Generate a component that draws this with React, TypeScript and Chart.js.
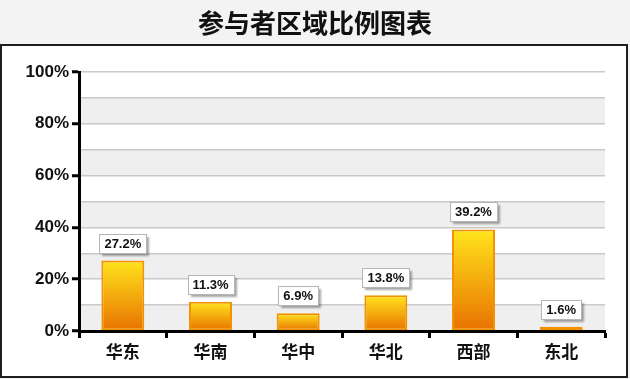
import React, { useEffect, useRef } from 'react';
import { Chart, registerables } from 'chart.js';

Chart.register(...registerables);

const titleText = '参与者区域比例图表';
const categories = ['华东', '华南', '华中', '华北', '西部', '东北'];
const shares = [27.2, 11.3, 6.9, 13.8, 39.2, 1.6];
const labeledTicks = [0, 20, 40, 60, 80, 100];
const shadedBands = [[0, 10], [20, 30], [40, 50], [60, 70], [80, 90]];

const CJK = '"Noto Sans CJK SC", "Noto Sans", sans-serif';
const LATIN = '"Liberation Sans", Arial, sans-serif';

const frame = {
  id: 'frame',
  beforeDraw(chart: any) {
    const { ctx, width, height, chartArea } = chart;
    ctx.save();
    ctx.fillStyle = '#f3f3f3';
    ctx.fillRect(0, 0, width, height);
    ctx.fillStyle = '#ffffff';
    ctx.fillRect(1, 44, 626, 333);
    ctx.strokeStyle = '#1e1e1e';
    ctx.lineWidth = 2;
    ctx.strokeRect(1, 45, 626, 332);
    ctx.fillStyle = '#111';
    ctx.font = `bold 26px ${CJK}`;
    ctx.textAlign = 'center';
    ctx.textBaseline = 'middle';
    ctx.fillText(titleText, width / 2, 23);
    const ys = chart.scales.y;
    ctx.fillStyle = '#efefef';
    shadedBands.forEach(([a, b]) => {
      const top = ys.getPixelForValue(b);
      const bottom = ys.getPixelForValue(a);
      ctx.fillRect(chartArea.left, top, chartArea.right - chartArea.left, bottom - top);
    });
    ctx.restore();
  },
};

const valueLabels = {
  id: 'valueLabels',
  afterDatasetsDraw(chart: any) {
    const { ctx } = chart;
    const meta = chart.getDatasetMeta(0);
    ctx.save();
    ctx.font = `bold 13px ${LATIN}`;
    ctx.textAlign = 'center';
    ctx.textBaseline = 'middle';
    meta.data.forEach((bar: any, i: number) => {
      const text = shares[i].toFixed(1) + '%';
      const tw = ctx.measureText(text).width;
      const w = Math.round(tw + 10);
      const h = 19;
      const x = Math.round(bar.x - w / 2) + 0.5;
      const y = Math.round(bar.y - 8 - h) + 0.5;
      ctx.save();
      ctx.shadowColor = 'rgba(0,0,0,0.35)';
      ctx.shadowBlur = 2;
      ctx.shadowOffsetX = 2;
      ctx.shadowOffsetY = 2;
      ctx.fillStyle = '#ffffff';
      ctx.fillRect(x, y, w, h);
      ctx.restore();
      ctx.strokeStyle = '#b5b5b5';
      ctx.lineWidth = 1;
      ctx.strokeRect(x, y, w, h);
      ctx.fillStyle = '#111';
      ctx.fillText(text, bar.x, y + h / 2 + 0.5);
    });
    ctx.restore();
  },
};

export default function App() {
  const ref = useRef<HTMLCanvasElement>(null);
  useEffect(() => {
    if (!ref.current) return;
    const chart = new Chart(ref.current, {
      type: 'bar',
      data: {
        labels: categories,
        datasets: [
          {
            data: shares,
            backgroundColor: (c: any) => {
              if (c.type !== 'data' || !c.chart.chartArea) return '#f5b000';
              const ys = c.chart.scales.y;
              const top = ys.getPixelForValue(c.raw);
              const bottom = ys.getPixelForValue(0);
              const g = c.chart.ctx.createLinearGradient(0, top, 0, bottom);
              g.addColorStop(0, '#ffe41c');
              g.addColorStop(1, '#e87200');
              return g;
            },
            borderColor: '#f29200',
            borderWidth: 2,
            borderSkipped: false,
            barPercentage: 0.49,
            categoryPercentage: 1,
          },
        ],
      },
      options: {
        animation: false,
        responsive: false,
        maintainAspectRatio: false,
        devicePixelRatio: 1,
        layout: { padding: { top: 72, right: 25, bottom: 0, left: 0 } },
        plugins: {
          legend: { display: false },
          title: { display: false },
          tooltip: { enabled: false },
        },
        scales: {
          x: {
            afterFit: (s: any) => {
              s.height = 48;
            },
            grid: {
              display: true,
              drawOnChartArea: false,
              drawTicks: true,
              tickLength: 7,
              tickColor: '#000',
              tickWidth: 3,
              offset: true,
            },
            border: { display: true, color: '#000', width: 3 },
            ticks: {
              color: '#111',
              padding: 3,
              font: { family: CJK, size: 17, weight: 'bold' },
            },
          },
          y: {
            min: 0,
            max: 100,
            afterFit: (s: any) => {
              s.width = 79;
            },
            ticks: {
              stepSize: 10,
              autoSkip: false,
              color: '#111',
              padding: 3,
              font: { family: LATIN, size: 17, weight: 'bold' },
              callback: (v: any) => (labeledTicks.includes(Number(v)) ? v + '%' : ''),
            },
            grid: {
              color: '#c9c9c9',
              lineWidth: 1.5,
              tickLength: 7,
              tickWidth: 3,
              tickColor: (c: any) =>
                c.tick && labeledTicks.includes(c.tick.value) ? '#000' : 'rgba(0,0,0,0)',
            },
            border: { display: true, color: '#000', width: 3 },
          },
        },
      },
      plugins: [frame, valueLabels],
    });
    return () => chart.destroy();
  }, []);
  return (
    <div style={{ position: 'fixed', left: 0, top: 0, width: 630, height: 379 }}>
      <canvas ref={ref} width={630} height={379} style={{ display: 'block' }} />
    </div>
  );
}
